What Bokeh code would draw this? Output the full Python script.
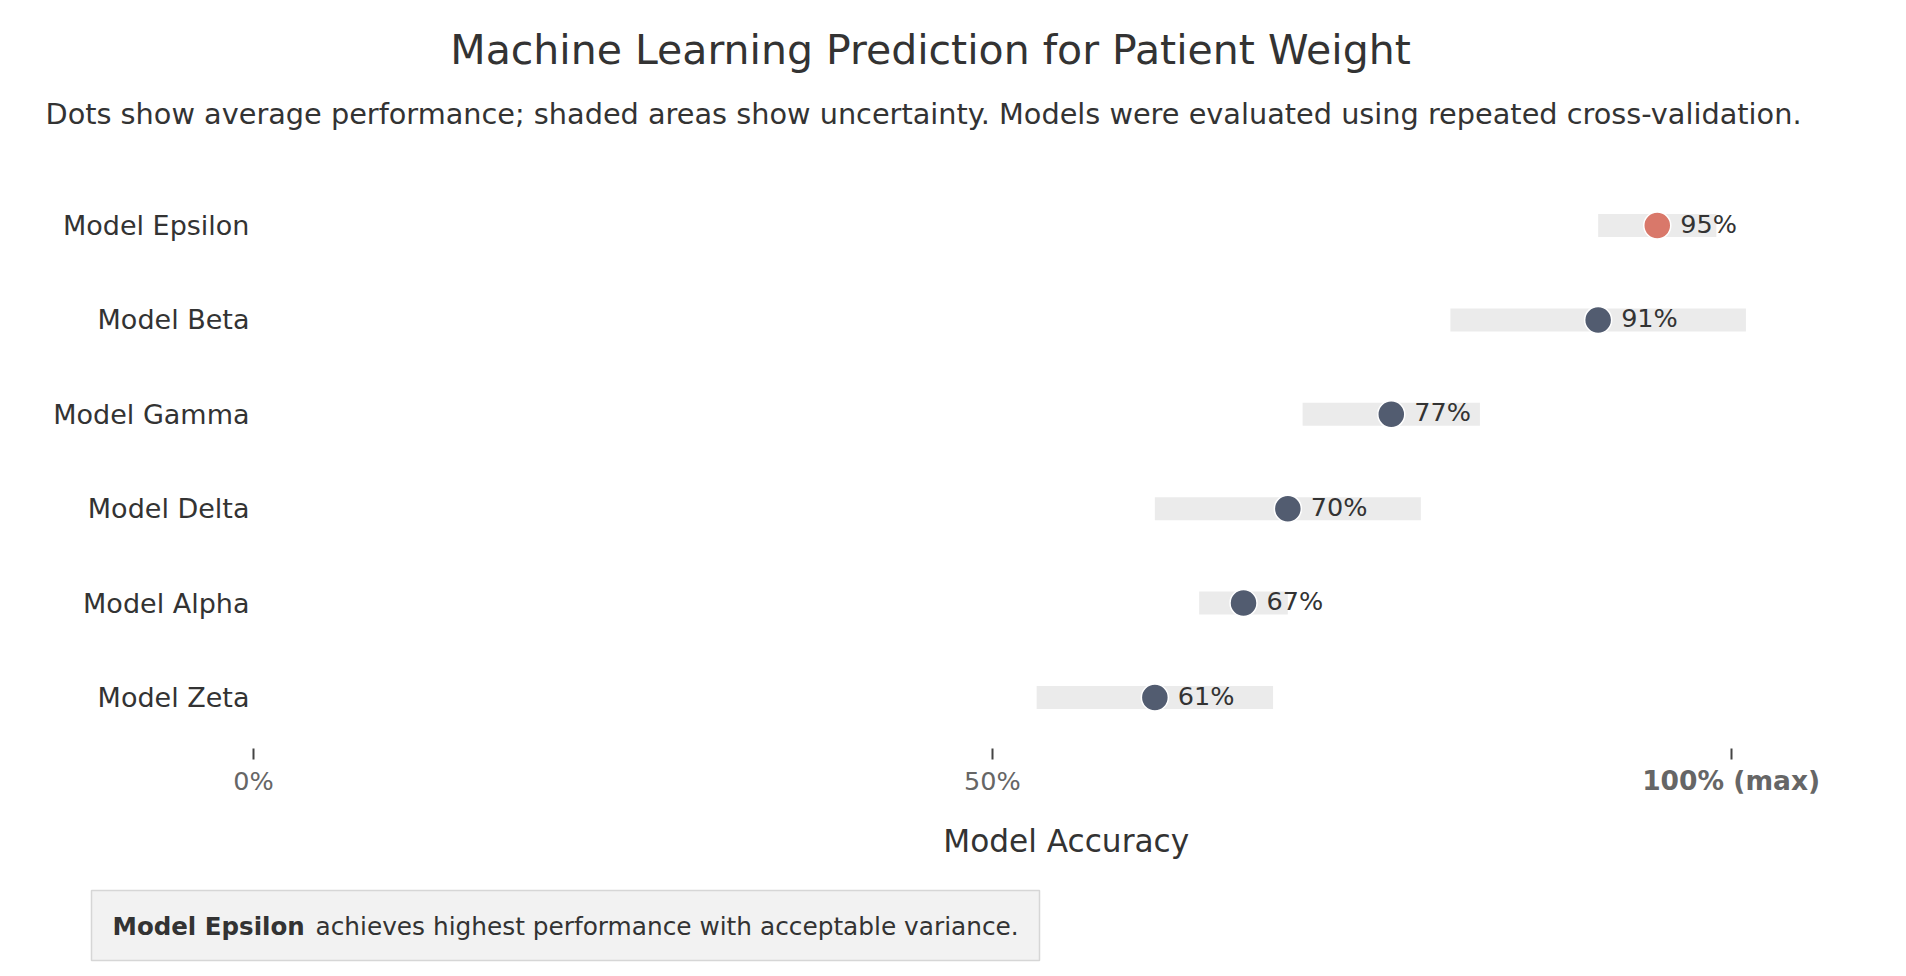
from bokeh.plotting import figure
from bokeh.models import ColumnDataSource, FixedTicker, Label, Range1d
from bokeh.embed import file_html
from bokeh.resources import INLINE
from bokeh.core.properties import value

# ---------------- data (listed bottom to top) ----------------
models = ["Model Zeta", "Model Alpha", "Model Delta", "Model Gamma", "Model Beta", "Model Epsilon"]
accuracy = [61, 67, 70, 77, 91, 95]
ci_low = [53, 64, 61, 71, 81, 91]
ci_high = [69, 70, 79, 83, 101, 99]
x_ticks = [0, 50, 100]
x_tick_labels = ["0%", "50%", "100% (max)"]

title_text = "Machine Learning Prediction for Patient Weight"
subtitle_text = ("Dots show average performance; shaded areas show uncertainty. "
                 "Models were evaluated using repeated cross-validation.")
axis_title = "Model Accuracy"
note_bold = "Model Epsilon"
note_rest = "achieves highest performance with acceptable variance."

# ---------------- styling / geometry ----------------
FONT = "DejaVu Sans"
BASE = "#525c70"
HIGHLIGHT = "#d9786a"
BAND = "#ebebeb"
TEXT = "#333333"
TICK_TEXT = "#666666"

W, H = 1906, 976
X0_PX, X110_PX = 253.0, 1878.4          # pixel columns of 0 % and 110 %
X_MIN, X_MAX = 0, 110
TOP_PX, BOTTOM_PX = 177.8, 744.2         # pixel rows of the data area edges
PPU_X = (X110_PX - X0_PX) / (X_MAX - X_MIN)
PPU_Y = (BOTTOM_PX - TOP_PX) / len(models)
Y_TOP = len(models) - 0.5


def cx(px):
    return X_MIN + (px - X0_PX) / PPU_X


def cy(py):
    return Y_TOP - (py - TOP_PX) / PPU_Y


best = accuracy.index(max(accuracy))
ypos = list(range(len(models)))
colors = [HIGHLIGHT if i == best else BASE for i in ypos]
labels = [f"{v}%" for v in accuracy]

src = ColumnDataSource(dict(y=ypos, model=models, acc=accuracy, lo=ci_low, hi=ci_high,
                            color=colors, label=labels))

p = figure(width=W, height=H, x_range=Range1d(cx(0), cx(W)), y_range=Range1d(cy(H), cy(0)),
           output_backend="svg", toolbar_location=None, tools="", min_border=0)
p.outline_line_color = None
p.grid.visible = False
p.background_fill_color = "white"
p.border_fill_color = "white"

# uncertainty bands, dots, value labels
p.hbar(y="y", left="lo", right="hi", height=23 / PPU_Y, source=src,
       fill_color=BAND, line_color=None)
p.scatter(x="acc", y="y", size=27, source=src, fill_color="color",
          line_color="white", line_width=1.5)
p.text(x="acc", y="y", text="label", source=src, x_offset=23, y_offset=-2,
       text_font=value(FONT), text_font_size="25.5px", text_color=TEXT,
       text_align="left", text_baseline="middle")

# y axis (model names) pinned at 0 %
ya = p.yaxis[0]
ya.fixed_location = X_MIN
ya.ticker = FixedTicker(ticks=ypos)
ya.major_label_overrides = {i: m for i, m in zip(ypos, models)}
ya.axis_line_color = None
ya.major_tick_line_color = None
ya.minor_tick_line_color = None
ya.major_tick_out = 0
ya.major_tick_in = 0
ya.major_label_standoff = 4
ya.major_label_text_font = FONT
ya.major_label_text_font_size = "27px"
ya.major_label_text_color = TEXT

# x axis pinned under the last row
xa = p.xaxis[0]
xa.fixed_location = -0.5
xa.ticker = FixedTicker(ticks=x_ticks)
xa.major_label_overrides = {x_ticks[0]: x_tick_labels[0], x_ticks[1]: x_tick_labels[1],
                            x_ticks[2]: ""}
xa.axis_line_color = None
xa.minor_tick_line_color = None
xa.major_tick_line_color = "#444444"
xa.major_tick_line_width = 2
xa.major_tick_in = -4
xa.major_tick_out = 15
xa.major_label_standoff = 6
xa.major_label_text_font = FONT
xa.major_label_text_font_size = "25.5px"
xa.major_label_text_color = TICK_TEXT

# emphasised maximum tick label
p.add_layout(Label(x=x_ticks[2], y=cy(764.5), text=x_tick_labels[2], text_font=FONT,
                   text_font_size="26.5px", text_font_style="bold", text_color=TICK_TEXT,
                   text_align="center", text_baseline="top"))

# titles
p.add_layout(Label(x=cx(930), y=cy(49), text=title_text, text_font=FONT,
                   text_font_size="41px", text_color=TEXT, text_align="center",
                   text_baseline="alphabetic"))
p.add_layout(Label(x=cx(45), y=cy(113), text=subtitle_text, text_font=FONT,
                   text_font_size="28.75px", text_color=TEXT, text_align="left",
                   text_baseline="alphabetic"))

# axis title
p.add_layout(Label(x=(X_MIN + X_MAX) / 2, y=cy(840), text=axis_title, text_font=FONT,
                   text_font_size="31.2px", text_color=TEXT, text_align="center",
                   text_baseline="alphabetic"))

# note box
p.quad(left=cx(91), right=cx(1039), top=cy(890), bottom=cy(960),
       fill_color="#f2f2f2", line_color="#d6d6d6", line_width=1.5)
p.add_layout(Label(x=cx(112), y=cy(925.5), text=note_bold, text_font=FONT,
                   text_font_size="24.5px", text_font_style="bold", text_color=TEXT,
                   text_align="left", text_baseline="middle"))
p.add_layout(Label(x=cx(315), y=cy(925.5), text=note_rest, text_font=FONT,
                   text_font_size="24.8px", text_color=TEXT,
                   text_align="left", text_baseline="middle"))

open("out.html", "w").write(file_html(p, INLINE))
